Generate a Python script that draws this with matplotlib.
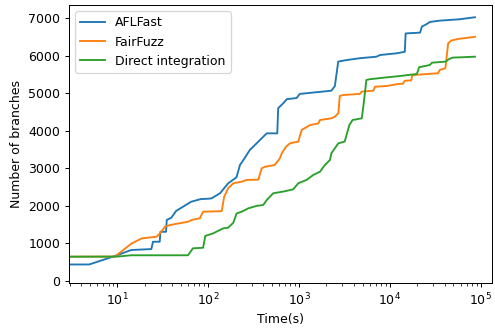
import numpy as np
import matplotlib
matplotlib.use("Agg")
import matplotlib.pyplot as plt

# time (s) / number of branches
afl_t = [1, 4.9, 9.4, 14.2, 23.7, 24.7, 29.3, 29.8, 34.4, 35, 39.3, 44.4, 65, 83, 100,
         109, 135, 166, 205, 224, 244, 288, 327, 404, 441, 576, 590, 670, 734, 940,
         1020, 2270, 2480, 2700, 3340, 4670, 7100, 7800, 11800, 14600, 14900, 21500,
         22500, 25500, 27600, 35400, 57800, 86400]
afl_y = [440, 440, 665, 825, 850, 1045, 1045, 1310, 1310, 1625, 1685, 1865, 2110, 2180, 2190,
         2200, 2335, 2600, 2760, 3090, 3220, 3490, 3620, 3840, 3930, 3930, 4600, 4730, 4840, 4870,
         4980, 5065, 5190, 5840, 5880, 5930, 5970, 6015, 6060, 6100, 6590, 6610,
         6770, 6840, 6895, 6930, 6965, 7020]

fair_t = [1, 9.4, 14.4, 18.6, 27.1, 29.5, 33.5, 38, 60.5, 66, 81, 88, 141, 150, 166,
          189, 234, 265, 357, 388, 422, 541, 615, 646, 719, 796, 980, 1070, 1320, 1630,
          1700, 2270, 2480, 2710, 2810, 3050, 4670, 4900, 6570, 6860, 9180, 12400, 13900,
          14600, 17200, 17600, 34000, 35400, 40800, 43800, 47400, 55500, 86400]
fair_y = [645, 650, 1000, 1135, 1180, 1270, 1445, 1490, 1580, 1625, 1670, 1845, 1860, 2245, 2470,
          2600, 2645, 2690, 2700, 3000, 3040, 3090, 3265, 3400, 3575, 3665, 3710, 4020, 4150, 4195,
          4285, 4330, 4375, 4465, 4925, 4950, 4980, 5040, 5065, 5170, 5190, 5245, 5250,
          5330, 5340, 5480, 5530, 5620, 5660, 6330, 6400, 6440, 6500]

direct_t = [1, 10, 14.2, 60, 68, 88, 93, 114, 124, 146, 166, 189, 206, 234, 277,
            343, 404, 441, 520, 670, 863, 980, 1210, 1430, 1700, 1930, 2190, 2270, 2710,
            3180, 3580, 3880, 4900, 5100, 5510, 5960, 8420, 12800, 19800, 21000, 27600,
            29000, 41500, 44200, 48800, 86400]
direct_y = [645, 650, 685, 685, 870, 885, 1200, 1270, 1315, 1400, 1420, 1550, 1800, 1845, 1935,
            2000, 2025, 2155, 2335, 2380, 2440, 2600, 2690, 2820, 2910, 3090, 3220, 3400, 3665,
            3710, 4150, 4285, 4330, 4640, 5350, 5370, 5410, 5455, 5510, 5690, 5750,
            5810, 5840, 5900, 5945, 5970]

fig = plt.figure(figsize=(495/90, 329/90), dpi=90)
ax = fig.add_axes([69/495, 1 - 283/329, (492 - 69)/495, (283 - 5)/329])

ax.plot(afl_t, afl_y, label="AFLFast")
ax.plot(fair_t, fair_y, label="FairFuzz")
ax.plot(direct_t, direct_y, label="Direct integration")

ax.set_xscale("log")
ax.set_xlim(2.94, 1.33e5)
ax.set_ylim(-53, 7346)
ax.set_xlabel("Time(s)")
ax.set_ylabel("Number of branches")
ax.legend(loc="upper left")

fig.savefig("out.png", dpi=90)
